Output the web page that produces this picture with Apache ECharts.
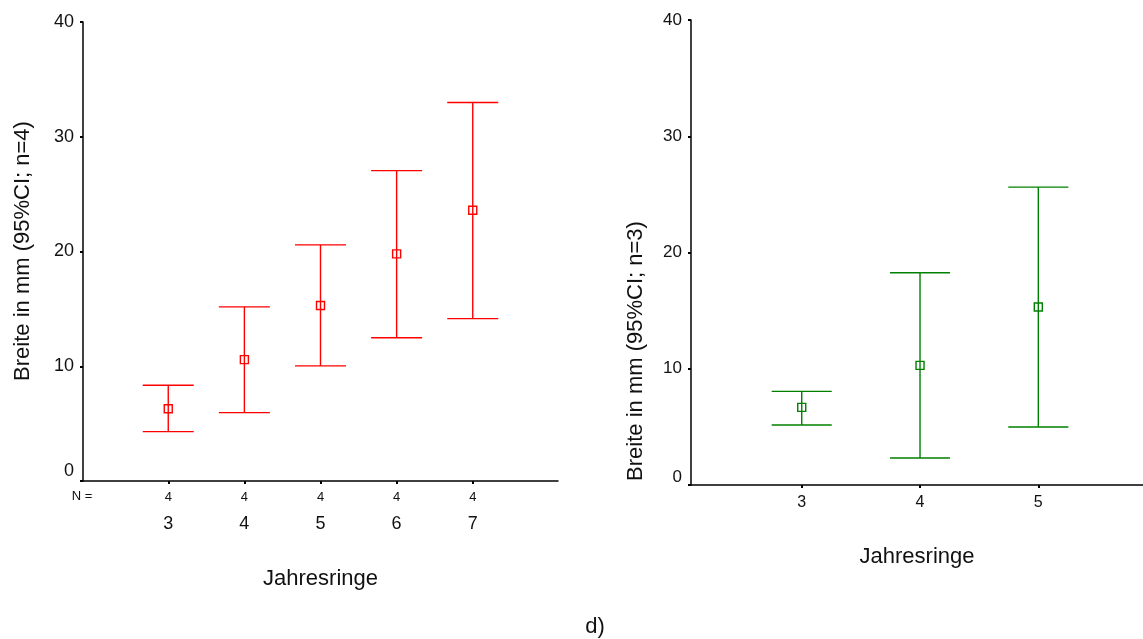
<!DOCTYPE html>
<html>
<head>
<meta charset="utf-8">
<script src="https://cdn.jsdelivr.net/npm/echarts@6/dist/echarts.min.js"></script>
<style>
html,body{margin:0;padding:0;background:#fff;}
#chart{width:1143px;height:639px;}
</style>
</head>
<body>
<div id="chart"></div>
<script>
// ---- data ----
const catsLeft = [3, 4, 5, 6, 7];
const nLeft = [4, 4, 4, 4, 4];
const meanLeft = [6.3, 10.58, 15.29, 19.79, 23.6];
const lowLeft = [4.3, 5.96, 10.03, 12.49, 14.15];
const highLeft = [8.34, 15.17, 20.58, 27.05, 32.98];

const catsRight = [3, 4, 5];
const meanRight = [6.68, 10.29, 15.31];
const lowRight = [5.16, 2.32, 4.99];
const highRight = [8.05, 18.26, 25.62];

const yTicks = [0, 10, 20, 30, 40];
const yNameLeft = 'Breite in mm (95%CI; n=4)';
const yNameRight = 'Breite in mm (95%CI; n=3)';
const xName = 'Jahresringe';
const panelLabel = 'd)';

const FONT = '"Liberation Sans", Arial, sans-serif';
const RED = '#ff0000';
const GREEN = '#008000';

function rows(cats, lo, hi, mean) {
  return cats.map((c, i) => [c, lo[i], hi[i], mean[i]]);
}

function makeRender(color, capW) {
  return function (params, api) {
    const x = api.value(0), lo = api.value(1), hi = api.value(2), m = api.value(3);
    const pLo = api.coord([x, lo]);
    const pHi = api.coord([x, hi]);
    const pM = api.coord([x, m]);
    const hw = api.size([capW, 0])[0] / 2;
    const st = { stroke: color, lineWidth: 1.4, fill: null };
    const s = 4;
    return {
      type: 'group',
      children: [
        { type: 'line', shape: { x1: pLo[0], y1: pLo[1], x2: pHi[0], y2: pHi[1] }, style: st },
        { type: 'line', shape: { x1: pHi[0] - hw, y1: pHi[1], x2: pHi[0] + hw, y2: pHi[1] }, style: st },
        { type: 'line', shape: { x1: pLo[0] - hw, y1: pLo[1], x2: pLo[0] + hw, y2: pLo[1] }, style: st },
        { type: 'rect', shape: { x: pM[0] - s, y: pM[1] - s, width: 2 * s, height: 2 * s }, style: { stroke: color, lineWidth: 1.4, fill: 'rgba(255,255,255,0)' } }
      ]
    };
  };
}

function yAxis(gridIndex, fontSize, zeroShift) {
  return {
    type: 'value', gridIndex, min: 0, max: 40, interval: 10,
    axisLine: { show: true, lineStyle: { color: '#000', width: 1.5 } },
    axisTick: { show: true, length: 3, lineStyle: { color: '#000', width: 2 } },
    splitLine: { show: false },
    axisLabel: {
      margin: 9, color: '#111', fontFamily: FONT, fontSize,
      formatter: v => v === 0 ? '{z|0}' : String(v),
      rich: { z: { fontSize, fontFamily: FONT, color: '#111', padding: [0, 0, zeroShift, 0] } }
    }
  };
}

const chart = echarts.init(document.getElementById('chart'), null, { renderer: 'canvas' });

const option = {
  backgroundColor: '#fff',
  animation: false,
  grid: [
    { left: 83, top: 22, width: 475, height: 459 },
    { left: 691, top: 20, width: 452, height: 465 }
  ],
  xAxis: [
    {
      type: 'value', gridIndex: 0, min: 1.88, max: 8.12,
      axisLine: { show: true, onZero: false, lineStyle: { color: '#000', width: 1.5 } },
      axisTick: { show: true, length: 3, customValues: catsLeft, lineStyle: { color: '#000', width: 2 } },
      splitLine: { show: false },
      axisLabel: {
        margin: 9, customValues: catsLeft, color: '#111', fontFamily: FONT,
        formatter: v => {
          const i = catsLeft.indexOf(v);
          return '{n|' + (i >= 0 ? nLeft[i] : '') + '}\n{c|' + v + '}';
        },
        rich: {
          n: { fontSize: 13, lineHeight: 14, fontFamily: FONT, color: '#111' },
          c: { fontSize: 18, lineHeight: 40, fontFamily: FONT, color: '#111' }
        }
      },
      name: xName, nameLocation: 'middle', nameGap: 87,
      nameTextStyle: { fontSize: 22, fontFamily: FONT, color: '#111' }
    },
    {
      type: 'value', gridIndex: 1, min: 2.064, max: 5.885,
      axisLine: { show: true, onZero: false, lineStyle: { color: '#000', width: 1.5 } },
      axisTick: { show: true, length: 3, customValues: catsRight, lineStyle: { color: '#000', width: 2 } },
      splitLine: { show: false },
      axisLabel: { margin: 10, customValues: catsRight, color: '#111', fontFamily: FONT, fontSize: 16 },
      name: xName, nameLocation: 'middle', nameGap: 61,
      nameTextStyle: { fontSize: 22, fontFamily: FONT, color: '#111' }
    }
  ],
  yAxis: [yAxis(0, 18, 20), yAxis(1, 17, 16)],
  graphic: [
    { type: 'text', x: 22.5, y: 251, rotation: Math.PI / 2,
      style: { text: yNameLeft, fontSize: 22, fontFamily: FONT, fill: '#111', align: 'center', verticalAlign: 'middle' } },
    { type: 'text', x: 636, y: 351, rotation: Math.PI / 2,
      style: { text: yNameRight, fontSize: 22, fontFamily: FONT, fill: '#111', align: 'center', verticalAlign: 'middle' } },
    { type: 'text', x: 82, y: 496,
      style: { text: 'N =', fontSize: 13, fontFamily: FONT, fill: '#111', align: 'center', verticalAlign: 'middle' } },
    { type: 'text', x: 595, y: 627,
      style: { text: panelLabel, fontSize: 22, fontFamily: FONT, fill: '#111', align: 'center', verticalAlign: 'middle' } }
  ],
  series: [
    {
      type: 'custom', xAxisIndex: 0, yAxisIndex: 0,
      renderItem: makeRender(RED, 0.67),
      encode: { x: 0, y: [1, 2, 3] },
      data: rows(catsLeft, lowLeft, highLeft, meanLeft),
      clip: false
    },
    {
      type: 'custom', xAxisIndex: 1, yAxisIndex: 1,
      renderItem: makeRender(GREEN, 0.508),
      encode: { x: 0, y: [1, 2, 3] },
      data: rows(catsRight, lowRight, highRight, meanRight),
      clip: false
    }
  ]
};
chart.setOption(option);
</script>
</body>
</html>
